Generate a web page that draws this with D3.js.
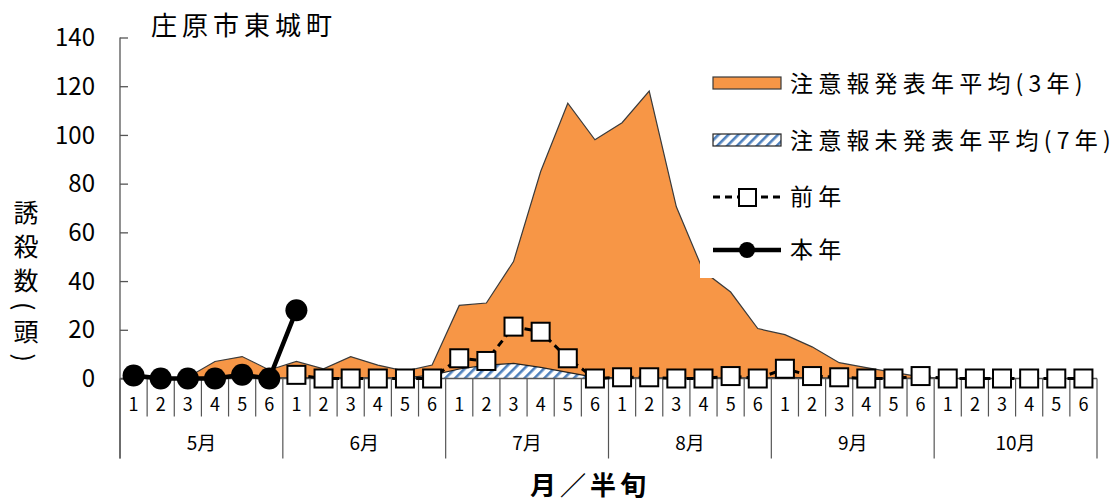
<!DOCTYPE html>
<html lang="ja">
<head>
<meta charset="UTF-8">
<title>庄原市東城町</title>
<style>
  html, body { margin: 0; padding: 0; background: #fff; }
  svg text { font-family: "Noto Sans CJK JP", "Noto Sans", sans-serif; fill: #000; }
</style>
</head>
<body>
<div id="graph"></div>
<script src="https://cdn.jsdelivr.net/npm/d3@7/dist/d3.min.js"></script>
<script>
// データ
var months = ["5月", "6月", "7月", "8月", "9月", "10月"];
var halves = ["1", "2", "3", "4", "5", "6"];
var yTicks = [0, 20, 40, 60, 80, 100, 120, 140];

// 注意報発表年平均(3年)
var hatsuhyo = [0, 0, 0.5, 7, 9, 3.5, 7, 4, 9, 5.5, 3, 5.5,
                30, 31, 48, 85, 113, 98, 105, 118, 70.5, 44, 35.5, 20.5,
                18, 13, 6.5, 4.5, 2.5, 0.7, 0, 0, 0, 0, 0, 0];
// 注意報未発表年平均(7年)
var mihappyo = [0, 0, 0, 0.8, 0.8, 0.3, 0.3, 0.3, 0.3, 0.3, 0.3, 1.4,
                3.9, 5.5, 6.2, 4.6, 2.5, 0.5, 0.3, 0.3, 0.2, 0.2, 0.3, 0.2,
                0.5, 0.3, 0.2, 0.1, 0.1, 0.1, 0, 0, 0, 0, 0, 0];
// 前年
var zennen = [null, null, null, null, null, null, 1.5, 0, 0, 0, 0, 0,
              8.3, 7.2, 21.3, 19.2, 8.3, 0, 0.5, 0.5, 0, 0, 1, 0,
              4, 1, 0.5, 0, 0, 1, 0, 0, 0, 0, 0, 0];
// 本年
var honnen = [1.2, 0, 0, 0, 1.5, 0, 28];

var width = 1119, height = 504;
var plotLeft = 120, plotRight = 1097, plotTop = 37.5, plotBottom = 378.5;

var svg = d3.select("#graph").append("svg")
    .attr("width", width).attr("height", height);

var defs = svg.append("defs");
var pat = defs.append("pattern")
    .attr("id", "hatch")
    .attr("patternUnits", "userSpaceOnUse")
    .attr("width", 7).attr("height", 7)
    .attr("patternTransform", "rotate(45)");
pat.append("rect").attr("width", 7).attr("height", 7).attr("fill", "#fff");
pat.append("rect").attr("width", 2.6).attr("height", 7).attr("fill", "#4F81BD");

// スケール
var slots = d3.range(months.length * halves.length);
var xScale = d3.scaleBand().domain(slots).range([plotLeft, plotRight]).padding(0);
var bw = xScale.bandwidth();
function cx(i) { return xScale(i) + bw / 2; }
var yScale = d3.scaleLinear().domain([0, 140]).range([plotBottom, plotTop]);

// 面グラフ
var area = d3.area()
    .x(function(d, i) { return cx(i); })
    .y0(yScale(0))
    .y1(function(d) { return yScale(d); });

svg.append("path")
    .datum(hatsuhyo)
    .attr("d", area)
    .attr("fill", "#F79646")
    .attr("stroke", "#3a3a3a")
    .attr("stroke-width", 1.2);

svg.append("path")
    .datum(mihappyo)
    .attr("d", area)
    .attr("fill", "url(#hatch)")
    .attr("stroke", "#222")
    .attr("stroke-width", 1.2);

// 凡例の白背景
svg.append("rect")
    .attr("x", 700).attr("y", 58).attr("width", 419).attr("height", 220)
    .attr("fill", "#fff");

// Y軸
var yAxis = svg.append("g")
    .attr("transform", "translate(" + plotLeft + ",0)")
    .call(d3.axisRight(yScale).tickValues(yTicks).tickSize(8).tickFormat(""));
yAxis.select(".domain").remove();
yAxis.selectAll("line").attr("stroke", "#555").attr("stroke-width", 1.3);
svg.append("line")
    .attr("x1", plotLeft).attr("x2", plotLeft)
    .attr("y1", yScale(140)).attr("y2", plotBottom + 80)
    .attr("stroke", "#555").attr("stroke-width", 1.3);

svg.append("g").selectAll("text")
    .data(yTicks)
    .enter().append("text")
    .attr("x", 95)
    .attr("y", function(d) { return yScale(d); })
    .attr("dy", "0.36em")
    .attr("text-anchor", "end")
    .attr("font-size", 24)
    .text(function(d) { return d; });

// X軸（表形式）
svg.append("line")
    .attr("x1", plotLeft).attr("x2", plotRight)
    .attr("y1", plotBottom).attr("y2", plotBottom)
    .attr("stroke", "#555").attr("stroke-width", 1.3);

svg.append("g").selectAll("line")
    .data(slots.concat([slots.length]))
    .enter().append("line")
    .attr("x1", function(i) { return i < slots.length ? xScale(i) : plotRight; })
    .attr("x2", function(i) { return i < slots.length ? xScale(i) : plotRight; })
    .attr("y1", plotBottom)
    .attr("y2", function(i) { return i % 6 === 0 ? plotBottom + 80 : plotBottom + 38; })
    .attr("stroke", "#555").attr("stroke-width", 1.2);

svg.append("g").selectAll("text")
    .data(slots)
    .enter().append("text")
    .attr("x", function(i) { return cx(i); })
    .attr("y", plotBottom + 32)
    .attr("text-anchor", "middle")
    .attr("font-size", 18)
    .text(function(i) { return halves[i % 6]; });

svg.append("g").selectAll("text")
    .data(months)
    .enter().append("text")
    .attr("x", function(d, m) { return xScale(m * 6) + bw * 3; })
    .attr("y", plotBottom + 71)
    .attr("text-anchor", "middle")
    .attr("font-size", 19)
    .text(function(d) { return d; });

// 前年
var lineZ = d3.line()
    .defined(function(d) { return d !== null; })
    .x(function(d, i) { return cx(i); })
    .y(function(d) { return yScale(d); });

svg.append("path")
    .datum(zennen)
    .attr("d", lineZ)
    .attr("fill", "none")
    .attr("stroke", "#000")
    .attr("stroke-width", 3)
    .attr("stroke-dasharray", "7,5");

svg.append("g").selectAll("rect")
    .data(zennen.map(function(d, i) { return { v: d, i: i }; })
        .filter(function(d) { return d.v !== null; }))
    .enter().append("rect")
    .attr("x", function(d) { return cx(d.i) - 9; })
    .attr("y", function(d) { return yScale(d.v) - 9; })
    .attr("width", 18).attr("height", 18)
    .attr("fill", "#fff")
    .attr("stroke", "#000")
    .attr("stroke-width", 2);

// 本年
svg.append("path")
    .datum(honnen)
    .attr("d", d3.line()
        .x(function(d, i) { return cx(i); })
        .y(function(d) { return yScale(d); }))
    .attr("fill", "none")
    .attr("stroke", "#000")
    .attr("stroke-width", 4.5);

svg.append("g").selectAll("circle")
    .data(honnen)
    .enter().append("circle")
    .attr("cx", function(d, i) { return cx(i); })
    .attr("cy", function(d) { return yScale(d); })
    .attr("r", 11)
    .attr("fill", "#000");

// タイトル・軸ラベル
svg.append("text")
    .attr("x", 151).attr("y", 35)
    .attr("font-size", 26)
    .attr("letter-spacing", 5)
    .text("庄原市東城町");

svg.append("text")
    .attr("x", 26).attr("y", 200)
    .attr("font-size", 25)
    .attr("letter-spacing", 9)
    .style("writing-mode", "vertical-rl")
    .text("誘殺数(頭)");

svg.append("text")
    .attr("x", 530).attr("y", 495)
    .attr("font-size", 26)
    .attr("font-weight", "bold")
    .attr("letter-spacing", 4)
    .text("月／半旬");

// 凡例
var lg = svg.append("g");
var lx = 713, lt = 790;
lg.append("rect").attr("x", lx).attr("y", 77).attr("width", 68).attr("height", 12)
    .attr("fill", "#F79646").attr("stroke", "#3a3a3a").attr("stroke-width", 1.2);
lg.append("rect").attr("x", lx).attr("y", 134).attr("width", 68).attr("height", 12)
    .attr("fill", "url(#hatch)").attr("stroke", "#222").attr("stroke-width", 1.2);
lg.append("line").attr("x1", lx).attr("x2", lx + 68).attr("y1", 197).attr("y2", 197)
    .attr("stroke", "#000").attr("stroke-width", 3).attr("stroke-dasharray", "7,5");
lg.append("rect").attr("x", lx + 26).attr("y", 189).attr("width", 17).attr("height", 17)
    .attr("fill", "#fff").attr("stroke", "#000").attr("stroke-width", 2);
lg.append("line").attr("x1", lx).attr("x2", lx + 68).attr("y1", 250).attr("y2", 250)
    .attr("stroke", "#000").attr("stroke-width", 4.5);
lg.append("circle").attr("cx", lx + 34).attr("cy", 250).attr("r", 8).attr("fill", "#000");

var legendLabels = ["注意報発表年平均(3年)", "注意報未発表年平均(7年)", "前年", "本年"];
var legendY = [84, 141, 197, 250];
lg.selectAll("text.lab")
    .data(legendLabels)
    .enter().append("text")
    .attr("x", lt)
    .attr("y", function(d, i) { return legendY[i]; })
    .attr("dy", "0.36em")
    .attr("font-size", 23)
    .attr("letter-spacing", 5.2)
    .text(function(d) { return d; });
</script>
</body>
</html>
